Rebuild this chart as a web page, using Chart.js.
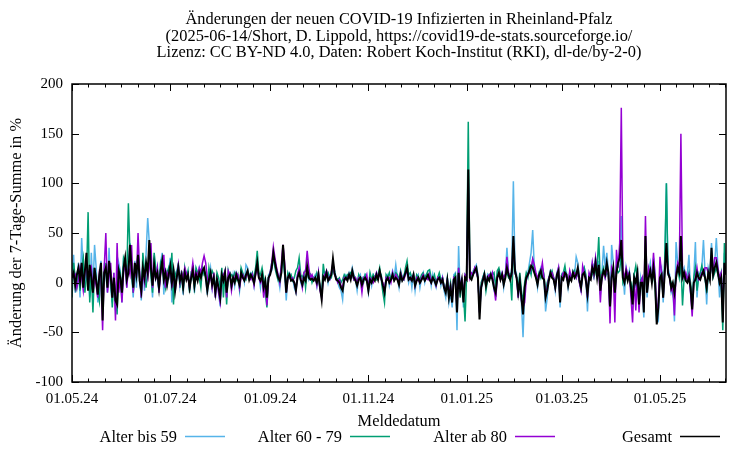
<!DOCTYPE html>
<html>
<head>
<meta charset="utf-8">
<script src="https://cdn.jsdelivr.net/npm/chart.js@4.4.1/dist/chart.umd.min.js"></script>
<style>
  html, body { margin: 0; padding: 0; background: #fff; }
  #wrap { width: 750px; height: 450px; }
</style>
</head>
<body>
<div id="wrap"><canvas id="chart" width="750" height="450"></canvas></div>
<script>
// day 0 = 01.05.2024, one value per Meldedatum
const xTickDays = [0, 61, 123, 184, 245, 304, 365];
const xTickLabels = ["01.05.24", "01.07.24", "01.09.24", "01.11.24", "01.01.25", "01.03.25", "01.05.25"];
const yTicks = [-100, -50, 0, 50, 100, 150, 200];

const titleLines = [
    "Änderungen der neuen COVID-19 Infizierten in Rheinland-Pfalz",
    "(2025-06-14/Short, D. Lippold, https://covid19-de-stats.sourceforge.io/",
    "Lizenz: CC BY-ND 4.0, Daten: Robert Koch-Institut (RKI), dl-de/by-2-0)"
];
const yTitle = "Änderung der 7-Tage-Summe in %";
const xTitle = "Meldedatum";

const seriesNames = ["Alter bis 59", "Alter 60 - 79", "Alter ab 80", "Gesamt"];

const bis59 = [
    10, 28, -10, 5, 20, -15, 45, 10, -5, 20,
    5, -15, 30, -8, 38, 15, -20, 5, 22, -25,
    15, 8, -10, 35, -5, -20, 10, -28, -15, 20,
    12, -20, 25, 15, -5, 20, 40, 10, -15, 22,
    -5, 30, 10, -18, 20, -8, 30, 65, 40, 10,
    -15, 25, 5, 15, -10, 20, 30, -12, 15, -5,
    10, 25, -20, 15, -5, 12, 18, -3, 10, -12,
    12, 5, 10, -8, 8, 15, -10, 12, 5, 15,
    8, 10, 12, 5, -12, 5, 15, -5, 8, -15,
    5, -10, -24, 10, 5, 12, -15, 8, 10, -5,
    8, -3, 10, 5, -8, 12, 8, 0, 18, 15,
    5, 10, 8, -3, 15, 12, 8, -5, 10, -10,
    5, -18, 8, 10, 12, 25, 18, 10, 5, -5,
    12, 28, 10, -18, 8, 10, 3, 5, -5, -10,
    8, 12, 0, -5, 8, 5, 10, 3, 8, 5,
    5, 8, -3, 10, -8, -10, 5, 8, 12, 0,
    8, 10, 18, 12, 5, 0, -5, -8, -17, 5,
    8, 5, 10, 5, 15, 8, 3, -8, 5, 8,
    -5, 5, 8, 3, -10, 5, -3, 8, 5, 10,
    5, 10, 8, -5, -12, 5, 8, -3, 5, 12,
    5, 18, 5, -5, 10, 3, 8, 12, 10, 0,
    8, -5, 10, -8, 5, 8, -5, 5, 10, 0,
    8, 5, 10, -3, 8, 0, -5, 5, 8, -3,
    5, -8, -15, 5, -20, -10, -25, 8, 10, -48,
    37, -10, 5, -25, 8, 5, 90, 10, 5, 12,
    15, 18, 8, -30, -8, 5, 10, -5, 8, 5,
    10, 5, -8, -12, 8, 12, 5, 10, -5, 8,
    35, 10, 5, 15, 102, 15, 8, -15, 5, -20,
    -55, -10, 8, 10, 20, 30, 53, 15, 8, -5,
    10, 15, 8, 5, -29, -15, 5, 12, 8, 5,
    -8, 10, 15, -25, 8, 5, 12, 10, -5, 8,
    5, 12, 8, 26, 20, 5, -10, 10, 15, 5,
    -29, 8, 5, 20, 15, 25, 8, 22, -12, 10,
    37, 15, 30, 12, -32, 38, 20, -15, 15, 25,
    30, 67, 10, -12, 15, 5, 12, -10, -25, 10,
    -5, 15, -25, 5, -5, -35, 40, -15, 10, 20,
    5, 25, 8, -35, -38, 10, 15, -20, 15, 100,
    15, 8, -10, -5, -39, 41, 20, 15, 30, 10,
    15, 5, 8, 28, -10, -25, 5, 41, -15, 10,
    8, 15, 43, 10, -22, 15, 8, 40, 12, 20,
    45, 15, -15, 10, -30, 30, 15
];

const alter6079 = [
    -15, 20, 5, -5, 10, -8, 15, 25, -10, 5,
    71, -20, 10, -30, 15, 5, -10, -19, 18, -15,
    8, 20, -5, 15, 10, -25, 5, -10, -32, 15,
    10, -15, 25, 20, 5, 80, 30, 10, -10, 5,
    15, 20, 5, -15, 30, 10, -5, 15, 25, 8,
    -10, 30, 15, 5, -8, 20, 15, 5, -5, 10,
    15, 5, 30, -22, 10, 5, 20, -5, 12, -8,
    15, 5, 12, -10, 10, 8, -5, 15, 10, 5,
    -5, 15, 8, 10, -5, 15, 5, 12, 8, -8,
    10, 5, -5, 15, -15, 10, -22, 12, 5, 8,
    5, 10, 3, 8, -5, 15, 10, 5, 3, 12,
    8, 5, 10, 3, 15, 32, 10, 8, 15, 5,
    -10, -25, 5, 10, 20, 25, 15, 8, 2, 5,
    15, 30, 8, -5, 10, 5, 8, 2, 5, 12,
    15, 25, 8, 5, 10, -5, 12, 5, 8, 0,
    5, 3, 10, 5, -5, -10, 19, 5, 8, 10,
    3, 5, 15, 8, 5, 3, 5, 0, 3, 8,
    5, 8, 5, 10, 8, 3, 5, 0, 8, 3,
    5, 0, 8, 5, -5, 10, 3, 8, 5, 3,
    8, 15, 3, -10, -20, 8, 5, 10, 3, 5,
    5, 10, 8, 3, 12, 5, 3, 15, 22, 8,
    10, 5, 3, 0, 8, 5, 3, 8, 10, 5,
    8, 12, 13, 5, 3, 8, 0, 5, 10, 3,
    5, -3, -8, 5, -10, 0, -15, 5, 8, -20,
    15, -15, 5, -10, -39, 10, 162, 8, 5, 10,
    10, 12, 3, -25, 0, 5, 10, -8, 3, 8,
    5, 8, 10, -5, 12, 15, 8, 5, 3, 8,
    10, 5, 8, -18, 35, 10, 5, -5, 10, -8,
    -20, 0, 10, 5, 15, 8, 22, 12, 5, 3,
    10, 5, 15, 8, -10, 0, 5, 8, 12, 5,
    0, 5, 10, -15, 8, 10, 17, 5, 0, 10,
    5, 8, 12, 5, 10, 0, -5, 10, 15, 8,
    -10, 5, 8, 10, 5, 12, 15, 46, 0, 10,
    15, 5, 10, 8, -15, 10, 5, -8, 15, 10,
    12, 30, 0, 5, 8, 10, 5, 0, -10, 8,
    17, 5, -15, 3, 5, -20, 30, -5, 10, 8,
    3, 10, -5, -40, -20, 5, 10, -15, 25, 100,
    8, 5, 0, -10, -20, 10, 15, 5, 20, -23,
    5, 8, 3, 10, 0, -20, 5, 15, -8, 5,
    10, 17, 8, 5, -10, 8, 5, 20, 5, 10,
    15, 8, 3, 10, -48, 40, 10
];

const ab80 = [
    10, 5, 8, -5, 3, 15, 5, -8, 10, 20,
    -5, 10, 15, -10, 5, -3, -15, 10, 5, -48,
    15, 50, -10, 5, 20, -15, 10, -38, 40, -10,
    5, -20, 10, 20, -5, 15, 8, 38, -10, 15,
    5, 50, 10, -15, 10, 0, 20, 5, 15, 40,
    -5, 10, 5, 15, -10, 8, 15, 28, -5, 10,
    5, 15, -5, 10, -10, 5, 18, 0, 10, 5,
    15, 10, 5, -5, 8, 20, 5, 10, 8, 15,
    10, 20, 27, 20, 5, 0, 8, -5, 10, -15,
    5, -10, -20, 5, 8, 12, -15, 12, 8, -8,
    3, 5, 10, 8, -5, 5, 8, 3, 5, 10,
    5, 3, 8, -3, 8, 15, 5, 0, 5, -15,
    0, -23, 3, 10, 20, 36, 25, 15, 8, 0,
    20, 38, 20, -10, 5, 8, 3, 5, 0, -8,
    8, 15, 5, -5, 10, 12, 32, 15, 5, 8,
    3, 5, -3, 10, -8, -15, 5, 8, 12, 5,
    3, 10, 20, 8, 5, 0, 3, -3, -5, 5,
    3, 5, 8, 5, 10, 3, 5, 0, 5, 3,
    -10, 5, 3, 8, -5, 5, 3, 0, 5, 10,
    5, 8, 3, 0, -8, 5, 3, 5, 0, 10,
    3, 8, 5, 0, 10, 5, 3, 8, 12, 5,
    3, 5, 8, -3, 5, 2, 0, 5, 8, 3,
    5, 3, 8, 0, 5, 3, -3, 5, 3, 0,
    5, -5, -8, 3, -10, -3, -18, 5, 3, -25,
    15, -5, 3, -12, 8, 5, 100, 5, 10, 8,
    15, 10, 5, -30, -5, 3, 8, 0, 5, 8,
    5, 10, -5, -18, 5, 8, 3, 10, 5, 8,
    26, 10, 5, 8, 40, 10, 5, -15, 3, -18,
    -25, -20, 3, 8, 10, 15, 24, 18, 10, 5,
    8, 10, 20, 5, -12, -5, 5, 8, 10, 5,
    -5, 8, 15, -18, 5, 10, 8, 5, 0, 12,
    5, 8, 10, 5, 12, 0, -8, 17, 10, 5,
    -15, 10, 5, 20, 8, 25, 10, 15, -20, 8,
    10, 5, 15, 10, -41, 15, 10, -40, 33, 15,
    40, 176, 12, 5, 15, 8, 10, -15, -40, 5,
    -28, 10, -30, 0, 5, -25, 67, -10, 15, 8,
    5, 30, 5, -30, -20, 26, 10, -15, 15, 30,
    10, 5, -8, -5, -33, 10, 20, 15, 150, 10,
    5, 10, 3, 8, -10, -34, 0, 5, 15, 3,
    5, 10, 8, 15, 15, 10, 5, 20, 10, 25,
    25, 15, 5, 10, -20, 15, 10
];

const gesamt = [
    5, 10, -3, 8, 15, 2, 20, -5, 12, 30,
    -8, 18, 5, -10, 15, 2, -12, 8, 20, -38,
    10, 15, -5, 22, 8, -15, 5, -18, -22, 12,
    5, -10, 15, 25, 3, 10, 38, 15, -5, 20,
    8, 28, 2, -8, 15, 5, 20, 10, 43, 15,
    -3, 18, 5, 10, -5, 12, 22, 3, 10, -2,
    8, 17, 0, 12, -8, 5, 15, 2, 8, -5,
    10, 3, 8, -5, 5, 12, -3, 8, 2, 10,
    5, 12, 15, 5, -8, 3, 10, -2, 5, -10,
    3, -5, -15, 8, 2, 10, -10, 5, 8, -3,
    5, 0, 8, 3, -2, 10, 5, 2, 8, 12,
    3, 8, 5, 0, 10, 20, 5, 2, 8, -5,
    2, -15, 5, 8, 15, 30, 20, 12, 5, 2,
    10, 38, 15, -10, 5, 8, 2, 3, 0, -8,
    5, 10, 3, -2, 5, 2, 16, 5, 3, 4,
    2, 5, 0, 8, -5, -17, 6, 3, 10, 2,
    5, 8, 24, 10, 3, 2, 0, -5, -8, 3,
    5, 2, 8, 3, 12, 5, 2, -3, 3, 5,
    -2, 3, 5, 2, -8, 3, 0, 5, 2, 8,
    3, 12, 5, -3, -10, 2, 5, 0, 3, 8,
    2, 5, 3, -2, 8, 2, 5, 10, 15, 3,
    5, 2, 8, -3, 2, 5, 0, 3, 6, 2,
    5, 8, 3, 0, 5, 2, -2, 3, 5, 0,
    3, -5, -10, 2, -15, -5, -20, 3, 5, -30,
    10, -8, 2, -20, 5, 3, 114, 5, 3, 8,
    12, 15, 5, -37, -5, 2, 8, -3, 5, 2,
    8, 3, -5, -10, 5, 10, 3, 8, -2, 5,
    15, 8, 3, 10, 47, 12, 5, -10, 2, -15,
    -32, -5, 5, 8, 12, 17, 15, 10, 5, -2,
    8, 12, 5, 3, -15, -8, 2, 10, 5, 3,
    -5, 8, 12, -20, 5, 3, 10, 8, -3, 5,
    2, 10, 5, 8, 15, 3, -5, 8, 10, 2,
    -12, 5, 3, 15, 10, 20, 5, 18, -8, 5,
    12, 8, 20, 10, -24, 5, 15, -10, 10, 20,
    25, 43, 5, 0, 10, 2, 8, -5, -22, 5,
    0, 10, -22, 0, 0, -30, 47, -10, 5, 12,
    0, 15, 0, -42, -25, 5, 8, -15, 10, 40,
    10, 5, -5, 0, -10, 5, 15, 10, 47, 5,
    10, 2, 0, 5, -5, -27, 0, 3, 10, 5,
    3, 8, 12, 5, -5, 10, 3, 35, 8, 15,
    20, 10, 0, 5, -40, 20, 8
];

const lastDay = 406;
const serif = "'Liberation Serif', 'DejaVu Serif', serif";

function toPoints(values) {
    return values.map((v, i) => ({ x: i, y: v }));
}

const framePlugin = {
    id: "frame",
    afterDraw(chart) {
        const ctx = chart.ctx;
        const a = chart.chartArea;
        const x = chart.scales.x;
        const y = chart.scales.y;

        ctx.save();
        ctx.strokeStyle = "#000";
        ctx.lineWidth = 1.5;
        ctx.strokeRect(a.left, a.top, a.right - a.left, a.bottom - a.top);

        // gnuplot style ticks pointing inwards, mirrored
        ctx.lineWidth = 1;
        ctx.beginPath();
        function xTick(v, len) {
            const px = Math.round(x.getPixelForValue(v)) + 0.5;
            ctx.moveTo(px, a.bottom);
            ctx.lineTo(px, a.bottom - len);
            ctx.moveTo(px, a.top);
            ctx.lineTo(px, a.top + len);
        }
        xTickDays.forEach((d, i) => {
            xTick(d, 7);
            const step = i < xTickDays.length - 1
                ? (xTickDays[i + 1] - d) / 6
                : (d - xTickDays[i - 1]) / 6;
            for (let k = 1; k < 6; k++) {
                if (d + k * step < lastDay) xTick(d + k * step, 3.5);
            }
        });
        yTicks.forEach(v => {
            const py = Math.round(y.getPixelForValue(v)) + 0.5;
            ctx.moveTo(a.left, py);
            ctx.lineTo(a.left + 7, py);
            ctx.moveTo(a.right, py);
            ctx.lineTo(a.right - 7, py);
        });
        ctx.stroke();

        ctx.fillStyle = "#000";
        ctx.font = "16.4px " + serif;
        ctx.textBaseline = "middle";

        const cx = (a.left + a.right) / 2;
        ctx.textAlign = "center";
        titleLines.forEach((line, i) => {
            ctx.fillText(line, cx, 20 + i * 16.5);
        });
        ctx.fillText(xTitle, cx, 422);

        ctx.save();
        ctx.translate(17, (a.top + a.bottom) / 2);
        ctx.rotate(-Math.PI / 2);
        ctx.fillText(yTitle, 0, 0);
        ctx.restore();

        // legend: text, then line sample
        chart.data.datasets.forEach((ds, i) => {
            const lineEnd = 225 + i * 165;
            const lineStart = lineEnd - 40;
            ctx.textAlign = "right";
            ctx.fillText(ds.label, lineStart - 8, 438);
            ctx.beginPath();
            ctx.strokeStyle = ds.borderColor;
            ctx.lineWidth = 1.5;
            ctx.moveTo(lineStart, 436.5);
            ctx.lineTo(lineEnd, 436.5);
            ctx.stroke();
        });
        ctx.restore();
    }
};

new Chart(document.getElementById("chart").getContext("2d"), {
    type: "line",
    data: {
        datasets: [
            { label: seriesNames[0], data: toPoints(bis59), borderColor: "#56b4e9", borderWidth: 1.5, order: 4 },
            { label: seriesNames[1], data: toPoints(alter6079), borderColor: "#009e73", borderWidth: 1.5, order: 3 },
            { label: seriesNames[2], data: toPoints(ab80), borderColor: "#9400d3", borderWidth: 1.5, order: 2 },
            { label: seriesNames[3], data: toPoints(gesamt), borderColor: "#000000", borderWidth: 2, order: 1 }
        ]
    },
    options: {
        responsive: false,
        animation: false,
        layout: { padding: { top: 84, right: 24, left: 0, bottom: 0 } },
        elements: {
            point: { radius: 0 },
            line: { tension: 0, fill: false }
        },
        plugins: {
            legend: { display: false },
            title: { display: false },
            tooltip: { enabled: false }
        },
        scales: {
            x: {
                type: "linear",
                min: 0,
                max: lastDay,
                afterBuildTicks: s => { s.ticks = xTickDays.map(v => ({ value: v })); },
                afterFit: s => { s.height = 68; },
                grid: { display: false, drawTicks: false },
                border: { display: false },
                ticks: {
                    color: "#000",
                    font: { family: serif, size: 15 },
                    padding: 8,
                    maxRotation: 0,
                    autoSkip: false,
                    callback: (v, i) => xTickLabels[i]
                }
            },
            y: {
                min: -100,
                max: 200,
                afterBuildTicks: s => { s.ticks = yTicks.map(v => ({ value: v })); },
                afterFit: s => { s.width = 72; },
                grid: { display: false, drawTicks: false },
                border: { display: false },
                ticks: {
                    color: "#000",
                    font: { family: serif, size: 15 },
                    padding: 9
                }
            }
        }
    },
    plugins: [framePlugin]
});
</script>
</body>
</html>
